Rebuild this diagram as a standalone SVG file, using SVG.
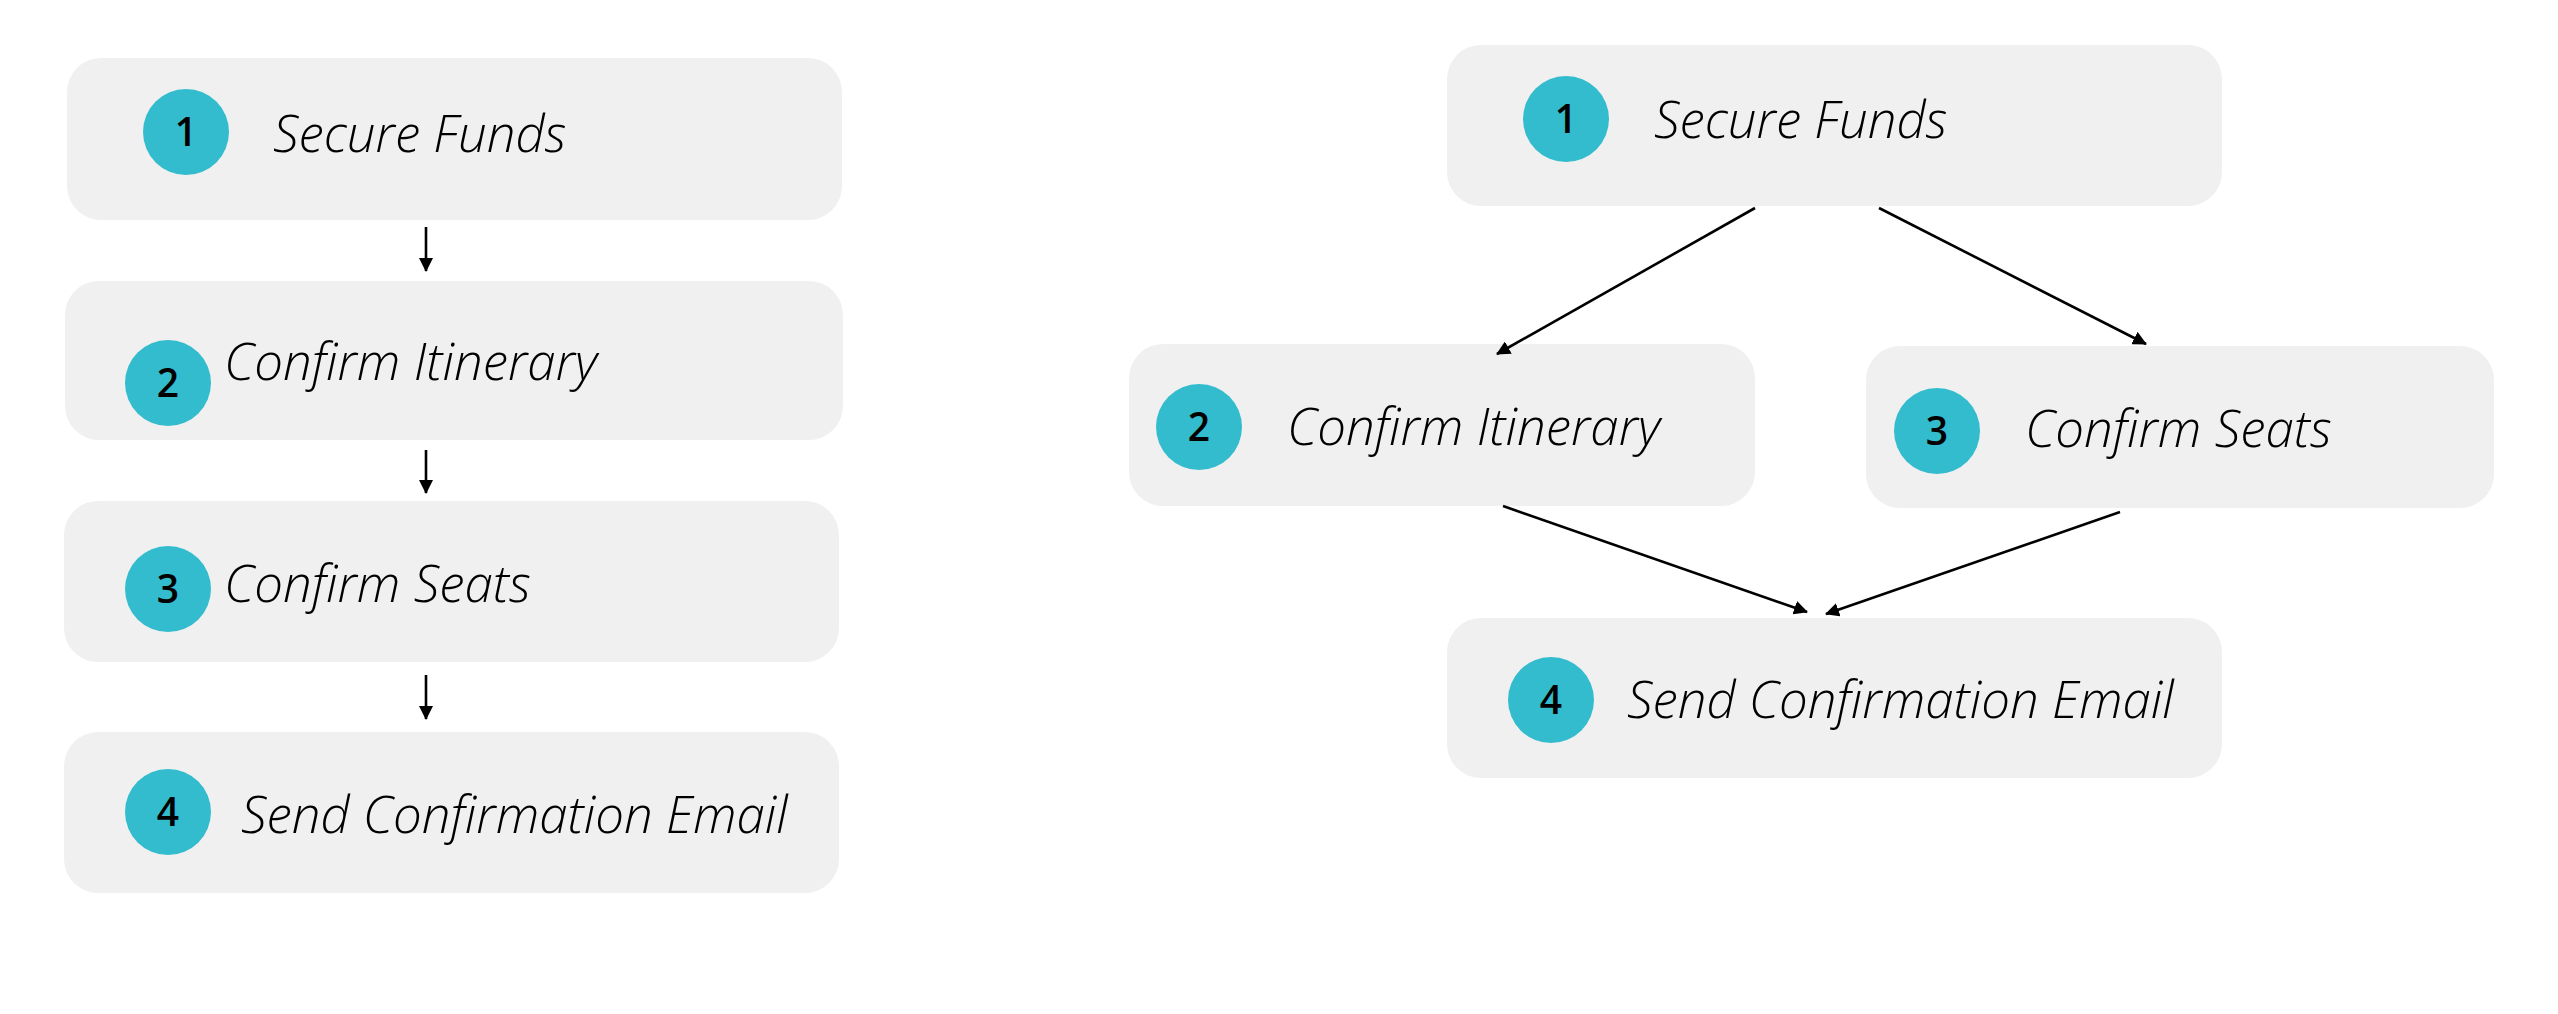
<svg xmlns="http://www.w3.org/2000/svg" width="2558" height="1014" viewBox="0 0 2558 1014">
<style>
.box{fill:#f0f0f0}
.dot{fill:#33bccd}
.num{font-family:"Open Sans","Noto Sans",sans-serif;font-weight:600;font-size:39px;fill:#000;text-anchor:middle}
.lbl{font-family:"Open Sans","Noto Sans",sans-serif;font-weight:300;font-style:italic;font-size:51px;fill:#000}
.edge{stroke:#000;stroke-width:2.6;fill:none}
</style>
<defs>
<marker id="ah" viewBox="0 0 14 14" refX="13" refY="7" markerWidth="14" markerHeight="14" markerUnits="userSpaceOnUse" orient="auto">
<path d="M0,0 L14,7 L0,14 z" fill="#000"/>
</marker>
</defs>
<rect width="2558" height="1014" fill="#fff"/>
<g id="L1"><rect class="box" x="67" y="58" width="775" height="162" rx="34"/><circle class="dot" cx="186" cy="132" r="43"/><text class="num" x="186" y="146">1</text><text class="lbl" x="273" y="152">Secure Funds</text></g>
<g id="L2"><rect class="box" x="65" y="281" width="778" height="159" rx="34"/><circle class="dot" cx="168" cy="383" r="43"/><text class="num" x="168" y="397">2</text><text class="lbl" x="224" y="380">Confirm Itinerary</text></g>
<g id="L3"><rect class="box" x="64" y="501" width="775" height="161" rx="34"/><circle class="dot" cx="168" cy="589" r="43"/><text class="num" x="168" y="603">3</text><text class="lbl" x="224" y="602">Confirm Seats</text></g>
<g id="L4"><rect class="box" x="64" y="732" width="775" height="161" rx="34"/><circle class="dot" cx="168" cy="812" r="43"/><text class="num" x="168" y="826">4</text><text class="lbl" x="241" y="833">Send Confirmation Email</text></g>
<g id="R1"><rect class="box" x="1447" y="45" width="775" height="161" rx="34"/><circle class="dot" cx="1566" cy="119" r="43"/><text class="num" x="1566" y="133">1</text><text class="lbl" x="1654" y="138">Secure Funds</text></g>
<g id="R2"><rect class="box" x="1129" y="344" width="626" height="162" rx="34"/><circle class="dot" cx="1199" cy="427" r="43"/><text class="num" x="1199" y="441">2</text><text class="lbl" x="1287" y="445">Confirm Itinerary</text></g>
<g id="R3"><rect class="box" x="1866" y="346" width="628" height="162" rx="34"/><circle class="dot" cx="1937" cy="431" r="43"/><text class="num" x="1937" y="445">3</text><text class="lbl" x="2025" y="447">Confirm Seats</text></g>
<g id="R4"><rect class="box" x="1447" y="618" width="775" height="160" rx="34"/><circle class="dot" cx="1551" cy="700" r="43"/><text class="num" x="1551" y="714">4</text><text class="lbl" x="1627" y="718">Send Confirmation Email</text></g>
<g id="connectors">
<line class="edge" x1="426" y1="227" x2="426" y2="271" marker-end="url(#ah)"/>
<line class="edge" x1="426" y1="450" x2="426" y2="493" marker-end="url(#ah)"/>
<line class="edge" x1="426" y1="675" x2="426" y2="719" marker-end="url(#ah)"/>
<line class="edge" x1="1755" y1="208" x2="1497" y2="354" marker-end="url(#ah)"/>
<line class="edge" x1="1879" y1="208" x2="2146" y2="344" marker-end="url(#ah)"/>
<line class="edge" x1="1503" y1="506" x2="1807" y2="612" marker-end="url(#ah)"/>
<line class="edge" x1="2120" y1="512" x2="1826" y2="614" marker-end="url(#ah)"/>
</g>
</svg>
